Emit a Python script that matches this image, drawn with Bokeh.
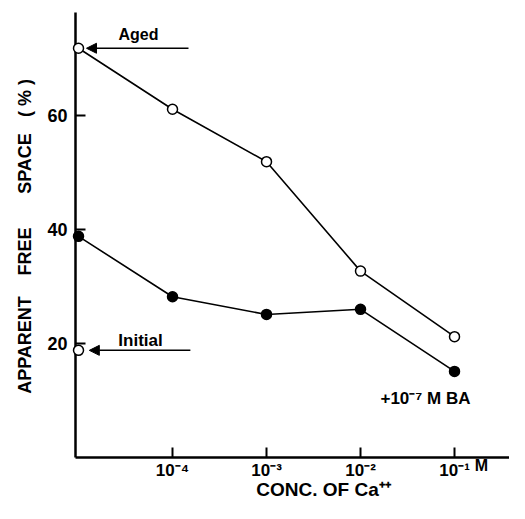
import numpy as np
from bokeh.plotting import figure
from bokeh.models import Range1d, Label, Arrow, NormalHead, FixedTicker
from bokeh.embed import file_html
from bokeh.resources import INLINE

# ---- data (log10 of Ca++ concentration; -5 = no Ca, plotted at the axis) ----
conc_log = [-5, -4, -3, -2, -1]
aged = [71.8, 61.1, 51.9, 32.7, 21.2]
aged_ba = [38.8, 28.2, 25.1, 26.0, 15.1]
initial = 18.8
x_ticks = [-4, -3, -2, -1]
x_tick_labels = ["10\u207b\u2074", "10\u207b\u00b3", "10\u207b\u00b2", "10\u207b\u00b9"]
y_ticks = [20, 40, 60]

FONT = "Liberation Sans"
X0, X1 = -5.032, -0.415   # axis extents
Y0, Y1 = 0.0, 78.07

p = figure(width=509, height=503, output_backend="svg", toolbar_location=None,
           x_range=Range1d(-5.830, -0.415), y_range=Range1d(-8.07, 80.18),
           min_border_left=0, min_border_right=0, min_border_top=0, min_border_bottom=0)
p.background_fill_color = "white"
p.border_fill_color = "white"
p.outline_line_color = None
p.grid.visible = False

for ax in (p.xaxis[0], p.yaxis[0]):
    ax.axis_line_width = 2.5
    ax.axis_line_color = "black"
    ax.major_tick_in = 10
    ax.major_tick_out = 0
    ax.major_tick_line_width = 2
    ax.minor_tick_line_color = None
    ax.major_label_text_font = FONT
    ax.major_label_text_font_style = "bold"
    ax.major_label_text_color = "black"

p.xaxis.fixed_location = Y0
p.xaxis.bounds = (X0, X1)
p.yaxis.fixed_location = X0
p.yaxis.bounds = (Y0, Y1)

p.xaxis.ticker = FixedTicker(ticks=x_ticks)
p.xaxis.major_label_overrides = {t: l for t, l in zip(x_ticks, x_tick_labels)}
p.xaxis.major_label_text_font_size = "17px"
p.xaxis.major_label_standoff = 3
p.yaxis.ticker = FixedTicker(ticks=y_ticks)
p.yaxis.major_label_text_font_size = "18px"
p.yaxis.major_label_standoff = 8

# lines
p.line(conc_log, aged, line_color="black", line_width=1.6)
p.line(conc_log, aged_ba, line_color="black", line_width=1.6)

r1 = p.scatter(conc_log, aged, size=10, marker="circle", fill_color="white",
               line_color="black", line_width=1.5)
r2 = p.scatter(conc_log, aged_ba, size=10, marker="circle", fill_color="black",
               line_color="black", line_width=1.5)
r3 = p.scatter([conc_log[0]], [initial], size=10, marker="circle", fill_color="white",
               line_color="black", line_width=1.5)
for r in (r1, r2, r3):
    r.level = "annotation"

# arrows
p.add_layout(Arrow(end=NormalHead(size=10, fill_color="black", line_color="black"),
                   x_start=-3.83, y_start=aged[0], x_end=conc_log[0] + 0.085, y_end=aged[0],
                   line_width=1.5, line_color="black"))
p.add_layout(Arrow(end=NormalHead(size=10, fill_color="black", line_color="black"),
                   x_start=-3.81, y_start=initial, x_end=conc_log[0] + 0.115, y_end=initial,
                   line_width=1.5, line_color="black"))

def lab(x, y, text, size, angle=0, style="bold"):
    p.add_layout(Label(x=x, y=y, text=text, text_font=FONT, text_font_size=size,
                       text_font_style=style, text_align="center", text_baseline="middle",
                       angle=angle, text_color="black"))

lab(-4.362, 74.2, "Aged", "16px")
lab(-4.34, 20.5, "Initial", "17px")
lab(-1.309, 10.3, "+10\u207b\u2077 M BA", "17px")
lab(-0.713, -1.4, "M", "16px")
lab(-2.394, -5.6, "CONC. OF Ca\u207a\u207a", "19px")
for word, yc in [("APPARENT", 19.74), ("FREE", 36.14), ("SPACE", 51.58), ("( % )", 63.07)]:
    lab(-5.569, yc, word, "18px", angle=np.pi / 2)

open("out.html", "w").write(file_html(p, INLINE))
